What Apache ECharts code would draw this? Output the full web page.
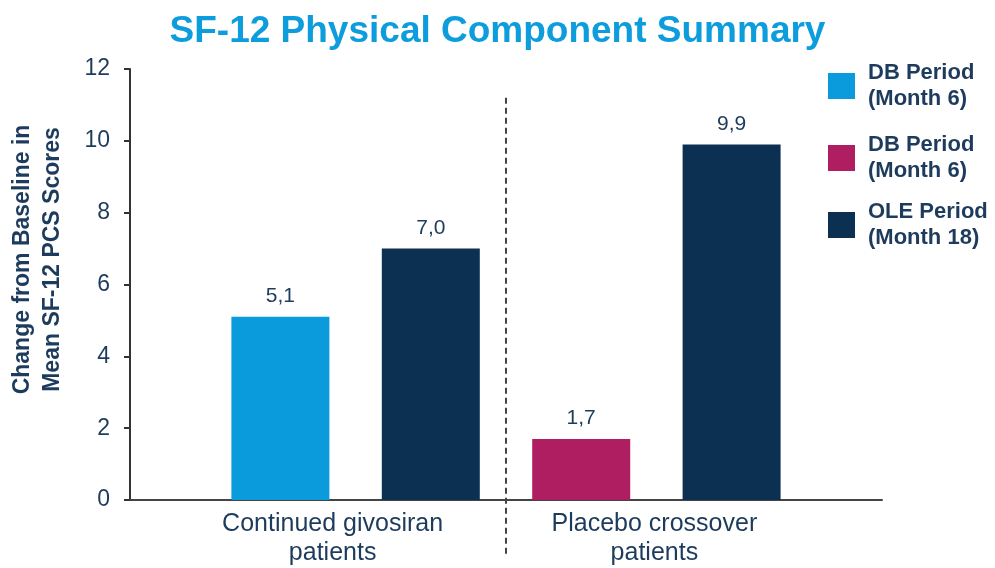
<!DOCTYPE html>
<html>
<head>
<meta charset="utf-8">
<title>SF-12 Physical Component Summary</title>
<script src="https://cdn.jsdelivr.net/npm/echarts@6/dist/echarts.min.js"></script>
<style>
  html, body { margin: 0; padding: 0; background: #ffffff; }
  #chart { width: 995px; height: 568px; }
</style>
</head>
<body>
<div id="chart"></div>
<script>
// Patient groups along the x axis
const groups = ['Continued givosiran\npatients', 'Placebo crossover\npatients'];

// Mean change from baseline per group (null = not measured in that group)
const dbGivosiran = [5.1, null];   // DB period, month 6, givosiran arm
const dbPlacebo   = [null, 1.7];   // DB period, month 6, placebo arm
const olePeriod   = [7.0, 9.9];    // OLE period, month 18

// Legend entries (the trailing space keeps the two DB entries distinct)
const seriesNames = ['DB Period\n(Month 6)', 'DB Period\n(Month 6) ', 'OLE Period\n(Month 18)'];

// Y axis range
const yMin = 0, yMax = 12, yStep = 2;

const FONT = "'Liberation Sans', Arial, sans-serif";
const TEXT = '#1d3b5c';
const COLORS = ['#0a9bdc', '#ae1e60', '#0c3052'];

// The x axis is split into half-steps: each group uses 4 slots,
// bars sit on slots 2 and 4 of a group, the group label on slot 3.
const SLOTS = groups.length * 4 + 3;
const slotIds = Array.from({ length: SLOTS }, (_, i) => 's' + i);
const barSlot = (g, k) => 2 + 4 * g + 2 * k;
const labelSlot = g => 3 + 4 * g;

function spread(values, k) {
  const out = new Array(SLOTS).fill('-');
  values.forEach((v, g) => { if (v !== null) out[barSlot(g, k)] = v; });
  return out;
}

const chart = echarts.init(document.getElementById('chart'), null, { renderer: 'canvas' });

const barLabel = {
  show: true,
  position: 'top',
  distance: 10,
  color: TEXT,
  fontFamily: FONT,
  fontSize: 21,
  formatter: p => Number(p.value).toFixed(1).replace('.', ',')
};

function makeSeries(name, data, color) {
  return {
    name: name,
    type: 'bar',
    data: data,
    barWidth: 98,
    barGap: '-100%',
    itemStyle: { color: color },
    label: barLabel
  };
}

function makeLegend(idx, top) {
  return {
    show: true,
    data: [seriesNames[idx]],
    orient: 'vertical',
    left: 828,
    top: top,
    padding: 0,
    icon: 'rect',
    itemWidth: 27,
    itemHeight: 26,
    selectedMode: false,
    textStyle: {
      color: TEXT,
      fontFamily: FONT,
      fontSize: 22,
      fontWeight: 'bold',
      lineHeight: 26,
      padding: [26, 0, 0, 8]
    }
  };
}

chart.setOption({
  animation: false,
  backgroundColor: '#ffffff',
  title: {
    text: 'SF-12 Physical Component Summary',
    left: 'center',
    top: 8,
    textStyle: {
      color: '#0d9ddd',
      fontFamily: FONT,
      fontSize: 37,
      fontWeight: 'bold'
    }
  },
  legend: [makeLegend(0, 47), makeLegend(1, 119), makeLegend(2, 186)],
  grid: { left: 127, right: 113, top: 69, bottom: 66, containLabel: false },
  xAxis: {
    type: 'category',
    data: slotIds,
    boundaryGap: false,
    axisLine: { show: true, lineStyle: { color: '#444444', width: 2 } },
    axisTick: { show: false },
    splitLine: { show: false },
    axisLabel: {
      interval: 0,
      margin: 10,
      color: TEXT,
      fontFamily: FONT,
      fontSize: 25,
      lineHeight: 29,
      formatter: (v, i) => {
        const g = groups.findIndex((_, gi) => labelSlot(gi) === i);
        if (g < 0) return '';
        return groups[g].split('\n').map(line => '{g' + g + '|' + line + '}').join('\n');
      },
      rich: {
        g0: { fontFamily: FONT, fontSize: 25, lineHeight: 29, color: TEXT, padding: [0, 46, 0, 0] },
        g1: { fontFamily: FONT, fontSize: 25, lineHeight: 29, color: TEXT, padding: [0, 4, 0, 0] }
      }
    }
  },
  yAxis: {
    type: 'value',
    min: yMin,
    max: yMax,
    interval: yStep,
    name: 'Change from Baseline in\nMean SF-12 PCS Scores',
    nameLocation: 'middle',
    nameGap: 62,
    nameTextStyle: {
      color: TEXT,
      fontFamily: FONT,
      fontSize: 23,
      fontWeight: 'bold',
      lineHeight: 30,
      padding: [0, 0, 0, 50]
    },
    axisLine: { show: true, lineStyle: { color: '#333333', width: 2 } },
    axisTick: { show: true, inside: false, length: 6, lineStyle: { color: '#333333', width: 2 } },
    splitLine: { show: false },
    axisLabel: {
      margin: 20,
      color: TEXT,
      fontFamily: FONT,
      fontSize: 23
    }
  },
  series: [
    makeSeries(seriesNames[0], spread(dbGivosiran, 0), COLORS[0]),
    makeSeries(seriesNames[1], spread(dbPlacebo, 0), COLORS[1]),
    makeSeries(seriesNames[2], spread(olePeriod, 1), COLORS[2])
  ]
});

// Dashed separator between the two patient groups, placed via the axis scales
const sepSlot = 1 + 4 * 1;   // midway between the two groups
const sepX = chart.convertToPixel({ xAxisIndex: 0 }, sepSlot);
const sepTop = chart.convertToPixel({ yAxisIndex: 0 }, 11.2);
const sepBottom = chart.convertToPixel({ yAxisIndex: 0 }, -1.5);
chart.setOption({
  graphic: [{
    type: 'line',
    silent: true,
    z: 10,
    shape: { x1: sepX, y1: sepTop, x2: sepX, y2: sepBottom },
    style: { stroke: '#444444', lineWidth: 2, lineDash: [6, 4] }
  }]
});
</script>
</body>
</html>
